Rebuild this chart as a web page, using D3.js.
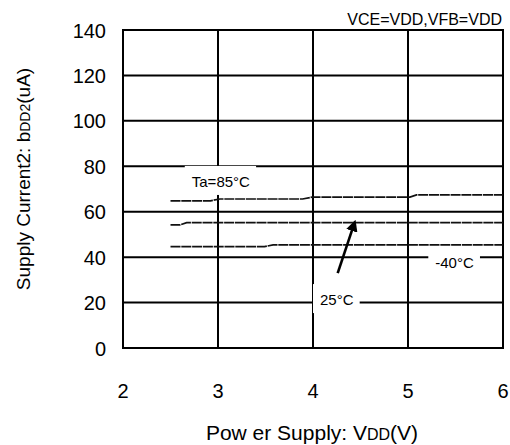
<!doctype html>
<html>
<head>
<meta charset="utf-8">
<style>
    body { margin: 0; background: #fff; }
    svg { font-family: 'Liberation Sans', Arial, sans-serif; }
    .tick-label { font-size: 20px; fill: #000; }
    .axis-label { fill: #000; }
    .note { font-size: 15px; fill: #000; }
    .grid line { stroke: #000; stroke-width: 2; }
    .series { fill: none; stroke: #111; stroke-width: 1.7; stroke-dasharray: 10 0.8; }
</style>
<script src="https://d3js.org/d3.v7.min.js"></script>
</head>
<body>
<svg width="510" height="445"></svg>
<script>
    // axis ticks
    const xTicks = [2, 3, 4, 5, 6];
    const yTicks = [0, 20, 40, 60, 80, 100, 120, 140];

    // supply current vs VDD
    const vdd85 = [2.5, 2.92, 3.02, 3.89, 3.99, 5.02, 5.09, 6.0];
    const idd85 = [64.8, 64.8, 65.6, 65.6, 66.4, 66.4, 67.4, 67.4];
    const vdd25 = [2.5, 2.6, 2.67, 6.0];
    const idd25 = [54.2, 54.2, 55.2, 55.2];
    const vddM40 = [2.5, 3.49, 3.58, 6.0];
    const iddM40 = [44.6, 44.6, 45.4, 45.4];

    // annotation positions in data units
    const notes = [
        { text: 'Ta=85°C', x: 3.03, y: 70.9 },
        { text: '25°C', x: 4.25, y: 18.9 },
        { text: '-40°C', x: 5.49, y: 35.2 }
    ];
    const arrowFrom = [4.26, 33.0];
    const arrowTo = [4.44, 55.5];

    const svg = d3.select('svg');
    const plotLeft = 123, plotRight = 503, plotTop = 30, plotBottom = 348;

    const x = d3.scaleLinear().domain([2, 6]).range([plotLeft, plotRight]);
    const y = d3.scaleLinear().domain([0, 140]).range([plotBottom, plotTop]);

    // grid
    const grid = svg.append('g').attr('class', 'grid');
    grid.selectAll('.v')
        .data(xTicks)
        .enter()
        .append('line')
        .attr('x1', d => x(d)).attr('x2', d => x(d))
        .attr('y1', plotTop).attr('y2', plotBottom);
    grid.selectAll('.h')
        .data(yTicks)
        .enter()
        .append('line')
        .attr('x1', plotLeft - 1).attr('x2', plotRight + 1)
        .attr('y1', d => y(d)).attr('y2', d => y(d));

    // tick labels
    svg.selectAll('.ylab')
        .data(yTicks)
        .enter()
        .append('text')
        .attr('class', 'tick-label')
        .attr('x', plotLeft - 17)
        .attr('y', d => y(d))
        .attr('dy', '0.38em')
        .attr('text-anchor', 'end')
        .text(d => d);

    svg.selectAll('.xlab')
        .data(xTicks)
        .enter()
        .append('text')
        .attr('class', 'tick-label')
        .attr('x', d => x(d))
        .attr('y', 398)
        .attr('text-anchor', 'middle')
        .text(d => d);

    // series
    const line = d3.line().x(d => x(d[0])).y(d => y(d[1]));
    [[vdd85, idd85], [vdd25, idd25], [vddM40, iddM40]].forEach(([vx, vy]) => {
        svg.append('path')
            .attr('class', 'series')
            .attr('d', line(vx.map((v, i) => [v, vy[i]])));
    });

    // annotations with white boxes
    notes.forEach(n => {
        const g = svg.append('g');
        const t = g.append('text')
            .attr('class', 'note')
            .attr('x', x(n.x))
            .attr('y', y(n.y))
            .attr('text-anchor', 'middle')
            .text(n.text);
        const bb = t.node().getBBox();
        g.insert('rect', 'text')
            .attr('x', bb.x - 7)
            .attr('y', bb.y - 7)
            .attr('width', bb.width + 13)
            .attr('height', bb.height + 12)
            .attr('fill', '#fff');
    });

    // arrow
    svg.append('defs').append('marker')
        .attr('id', 'head')
        .attr('viewBox', '0 0 10 10')
        .attr('refX', 8).attr('refY', 5)
        .attr('markerWidth', 4.5).attr('markerHeight', 4.5)
        .attr('orient', 'auto')
        .append('path')
        .attr('d', 'M0,0 L10,5 L0,10 z')
        .attr('fill', '#000');
    svg.append('line')
        .attr('x1', x(arrowFrom[0])).attr('y1', y(arrowFrom[1]))
        .attr('x2', x(arrowTo[0])).attr('y2', y(arrowTo[1]))
        .attr('stroke', '#000')
        .attr('stroke-width', 2.6)
        .attr('marker-end', 'url(#head)');

    // titles
    svg.append('text')
        .attr('class', 'axis-label')
        .attr('x', plotRight - 1)
        .attr('y', 25)
        .attr('text-anchor', 'end')
        .style('font-size', '16px')
        .text('VCE=VDD,VFB=VDD');

    const xl = svg.append('text')
        .attr('class', 'axis-label')
        .attr('x', 312)
        .attr('y', 440)
        .attr('text-anchor', 'middle')
        .style('font-size', '21px');
    xl.append('tspan').text('Pow er Supply: V');
    xl.append('tspan').style('font-size', '16px').text('DD');
    xl.append('tspan').text('(V)');

    const yl = svg.append('text')
        .attr('class', 'axis-label')
        .attr('transform', 'translate(30,179) rotate(-90)')
        .attr('text-anchor', 'middle')
        .style('font-size', '19px');
    yl.append('tspan').text('Supply Current2: b');
    yl.append('tspan').style('font-size', '14px').text('DD2');
    yl.append('tspan').text('(uA)');
</script>
</body>
</html>
